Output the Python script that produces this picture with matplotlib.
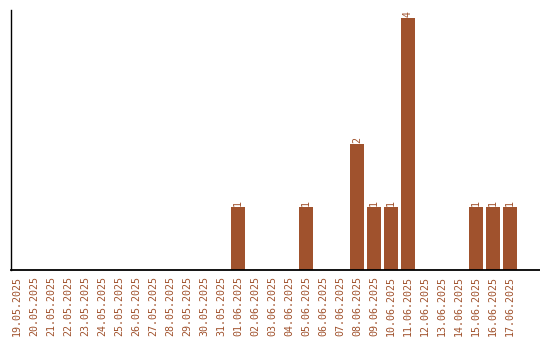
import matplotlib
matplotlib.use('Agg')
import matplotlib.pyplot as plt
import numpy as np

dates = ['19.05.2025', '20.05.2025', '21.05.2025', '22.05.2025', '23.05.2025',
         '24.05.2025', '25.05.2025', '26.05.2025', '27.05.2025', '28.05.2025',
         '29.05.2025', '30.05.2025', '31.05.2025', '01.06.2025', '02.06.2025',
         '03.06.2025', '04.06.2025', '05.06.2025', '06.06.2025', '07.06.2025',
         '08.06.2025', '09.06.2025', '10.06.2025', '11.06.2025', '12.06.2025',
         '13.06.2025', '14.06.2025', '15.06.2025', '16.06.2025', '17.06.2025']
counts = [0, 0, 0, 0, 0, 0, 0, 0, 0, 0, 0, 0, 0, 1, 0,
          0, 0, 1, 0, 0, 2, 1, 1, 4, 0, 0, 0, 1, 1, 1]

color = '#a0522d'

fig = plt.figure(figsize=(5.4, 3.4), dpi=100)
ax = fig.add_axes([11 / 540, 70 / 340, 529 / 540, 260 / 340])

x = np.arange(len(dates))
ax.bar(x, counts, width=14 / 17, color=color)

for xi, c in zip(x, counts):
    if c > 0:
        ax.text(xi, c + 0.02, str(c), rotation=90, ha='center', va='bottom',
                color=color, fontsize=7.2, family='DejaVu Sans Mono')

ax.set_xlim(-0.353, 30.76)
ax.set_ylim(0, 4.13)
ax.set_xticks(x)
ax.set_xticklabels(dates, rotation=90, color=color, fontsize=7.2,
                   family='DejaVu Sans Mono')
ax.tick_params(axis='x', length=0, pad=4)
ax.set_yticks([])
ax.spines['top'].set_visible(False)
ax.spines['right'].set_visible(False)
ax.spines['left'].set_linewidth(1)
ax.spines['bottom'].set_linewidth(1.3)

plt.savefig('out.png', dpi=100)
